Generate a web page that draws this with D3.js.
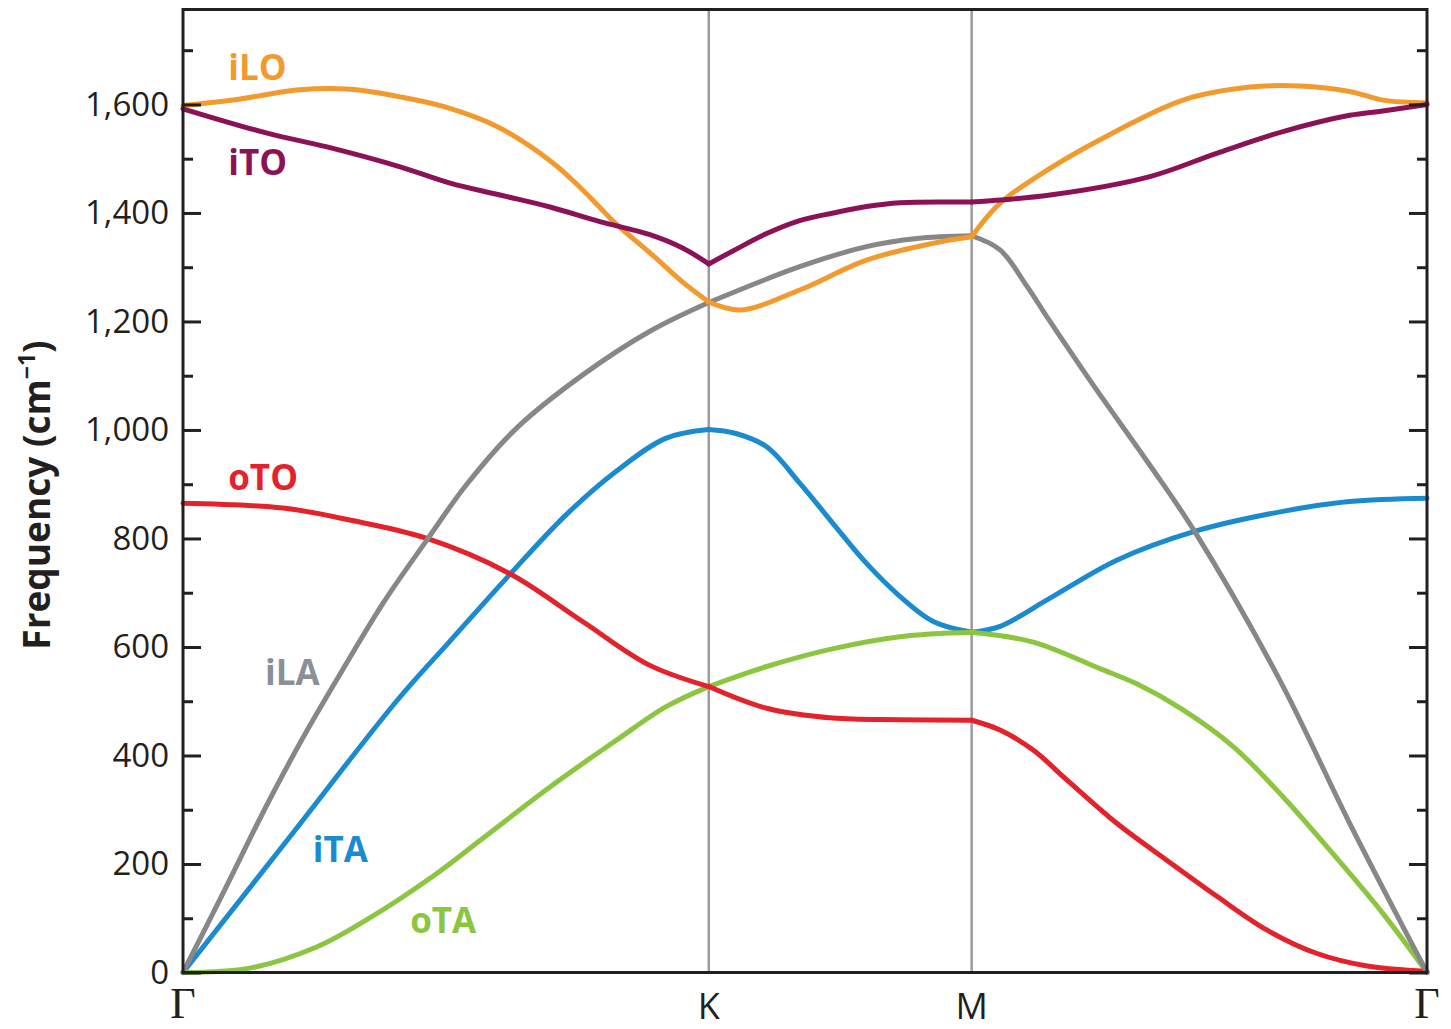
<!DOCTYPE html>
<html>
<head>
<meta charset="utf-8">
<script src="https://cdn.jsdelivr.net/npm/d3@7"></script>
<style>
  html, body { margin: 0; padding: 0; background: #fff; }
  svg { display: block; }
</style>
</head>
<body>
<div id="chart"></div>
<script>
// Graphene phonon dispersion along Γ–K–M–Γ
// q is path length in units of |ΓK|

const symPoints = [
  { label: 'Γ', q: 0 },
  { label: 'K', q: 1 },
  { label: 'M', q: 1.5 },
  { label: 'Γ', q: 1.5 + Math.sqrt(3) / 2 }
];

const yMajorTicks = [0, 200, 400, 600, 800, 1000, 1200, 1400, 1600];
const yMinorTicks = [100, 300, 500, 700, 900, 1100, 1300, 1500, 1700];

const iLO = [[0, 1598], [0.095, 1608], [0.222, 1627], [0.318, 1628], [0.413, 1614], [0.5, 1595],
  [0.6, 1558], [0.7, 1495], [0.75, 1452], [0.793, 1410], [0.818, 1385], [0.898, 1318],
  [0.951, 1272], [1, 1236], [1.059, 1221], [1.173, 1258], [1.3, 1313], [1.426, 1344],
  [1.5, 1356], [1.554, 1418], [1.649, 1482], [1.744, 1535], [1.902, 1608], [2.029, 1632],
  [2.124, 1634], [2.219, 1624], [2.282, 1608], [2.366, 1603]];

const iTO = [[0, 1592], [0.16, 1547], [0.285, 1519], [0.413, 1485], [0.508, 1455], [0.603, 1433],
  [0.698, 1411], [0.793, 1384], [0.888, 1360], [0.951, 1335], [1, 1306], [1.046, 1330],
  [1.11, 1362], [1.17, 1385], [1.237, 1400], [1.3, 1412], [1.364, 1419], [1.5, 1420],
  [1.649, 1433], [1.839, 1467], [1.966, 1510], [2.092, 1550], [2.219, 1580], [2.282, 1588],
  [2.366, 1600]];

const iLA = [[0, 0], [0.076, 146], [0.158, 306], [0.222, 422], [0.292, 539], [0.38, 680],
  [0.463, 796], [0.539, 899], [0.634, 1003], [0.761, 1102], [0.888, 1182], [1, 1235],
  [1.173, 1301], [1.3, 1338], [1.396, 1353], [1.5, 1358], [1.554, 1332], [1.605, 1265],
  [1.649, 1200], [1.731, 1083], [1.839, 935], [1.924, 813], [2.086, 539], [2.219, 275],
  [2.366, 0]];

const iTA = [[0, 0], [0.2, 246], [0.406, 500], [0.507, 610], [0.621, 733], [0.729, 844],
  [0.824, 924], [0.919, 985], [1, 1001], [1.05, 994], [1.11, 969], [1.173, 902],
  [1.236, 828], [1.3, 754], [1.364, 693], [1.427, 647], [1.5, 627], [1.554, 638],
  [1.649, 690], [1.776, 760], [1.924, 813], [2.092, 850], [2.219, 868], [2.366, 874]];

const oTO = [[0, 865], [0.19, 856], [0.317, 834], [0.461, 801], [0.62, 736], [0.76, 647],
  [0.886, 567], [1, 527], [1.11, 487], [1.236, 469], [1.364, 466], [1.5, 465],
  [1.554, 447], [1.617, 410], [1.681, 355], [1.776, 275], [1.871, 207], [1.967, 140],
  [2.062, 78], [2.157, 35], [2.252, 12], [2.366, 2]];

const oTA = [[0, 0], [0.127, 8], [0.254, 47], [0.349, 97], [0.476, 178], [0.571, 248],
  [0.698, 342], [0.824, 428], [0.919, 490], [1, 527], [1.11, 564], [1.237, 597],
  [1.364, 619], [1.5, 627], [1.617, 609], [1.744, 560], [1.814, 532], [1.902, 484],
  [1.998, 416], [2.092, 324], [2.187, 219], [2.282, 109], [2.366, 0]];

// label anchors in data coords (q, frequency)
const branches = [
  { name: 'iTA', data: iTA, color: '#1b8bd0', labelAt: [0.247, 204] },
  { name: 'oTA', data: oTA, color: '#8cc540', labelAt: [0.432, 73] },
  { name: 'oTO', data: oTO, color: '#e3222b', labelAt: [0.086, 889] },
  { name: 'iLA', data: iLA, color: '#878787', labelAt: [0.156, 530], labelColor: '#8a9099' },
  { name: 'iLO', data: iLO, color: '#f29a2e', labelAt: [0.086, 1645] },
  { name: 'iTO', data: iTO, color: '#8b1257', labelAt: [0.086, 1470] }
];

const width = 1451, height = 1029;
const margin = { top: 9.5, right: 24, bottom: 56.5, left: 183 };

const svg = d3.select('#chart').append('svg')
  .attr('width', width)
  .attr('height', height);

svg.append('rect').attr('width', width).attr('height', height).attr('fill', '#fff');

const x = d3.scaleLinear()
  .domain([0, symPoints[symPoints.length - 1].q])
  .range([margin.left, width - margin.right]);

const y = d3.scaleLinear()
  .domain([0, 1775])
  .range([height - margin.bottom, margin.top]);

const textColor = '#231f20';

// vertical lines at K and M
svg.append('g')
  .selectAll('line')
  .data(symPoints.slice(1, -1))
  .join('line')
  .attr('x1', d => x(d.q)).attr('x2', d => x(d.q))
  .attr('y1', y.range()[1]).attr('y2', y.range()[0])
  .attr('stroke', '#9b9b9b')
  .attr('stroke-width', 2.5);

// branches, each segment drawn separately so kinks at K and M stay sharp
const line = d3.line()
  .x(d => x(d[0]))
  .y(d => y(d[1]))
  .curve(d3.curveCatmullRom.alpha(0.5));

const segBounds = d3.pairs(symPoints.map(p => p.q));

const curves = svg.append('g').attr('fill', 'none')
  .attr('stroke-width', 5)
  .attr('stroke-linejoin', 'round')
  .attr('stroke-linecap', 'round');

branches.forEach(b => {
  segBounds.forEach(([a, c]) => {
    const seg = b.data.filter(d => d[0] >= a - 0.001 && d[0] <= c + 0.001);
    curves.append('path')
      .datum(seg)
      .attr('stroke', b.color)
      .attr('d', line);
  });
});

// branch labels
svg.append('g')
  .selectAll('text')
  .data(branches)
  .join('text')
  .attr('x', d => x(d.labelAt[0]))
  .attr('y', d => y(d.labelAt[1]))
  .attr('fill', d => d.labelColor || d.color)
  .attr('font-family', '"Open Sans", sans-serif')
  .attr('font-weight', 700)
  .attr('font-size', 35)
  .text(d => d.name);

// frame
svg.append('rect')
  .attr('x', x.range()[0]).attr('y', y.range()[1])
  .attr('width', x.range()[1] - x.range()[0])
  .attr('height', y.range()[0] - y.range()[1])
  .attr('fill', 'none')
  .attr('stroke', textColor)
  .attr('stroke-width', 3);

// left axis (ticks point inward)
const yAxis = svg.append('g')
  .attr('transform', `translate(${x.range()[0]},0)`)
  .call(d3.axisLeft(y).tickValues(yMajorTicks).tickFormat(d3.format(','))
    .tickSizeInner(-18).tickSizeOuter(0).tickPadding(14));
yAxis.select('.domain').remove();
yAxis.selectAll('.tick line').attr('stroke', textColor).attr('stroke-width', 3);
yAxis.selectAll('.tick text')
  .attr('fill', textColor)
  .attr('font-family', '"Open Sans", sans-serif')
  .attr('font-size', 33);

const yMinorLeft = svg.append('g')
  .attr('transform', `translate(${x.range()[0]},0)`)
  .call(d3.axisLeft(y).tickValues(yMinorTicks).tickFormat('').tickSizeInner(-10).tickSizeOuter(0));
yMinorLeft.select('.domain').remove();
yMinorLeft.selectAll('.tick line').attr('stroke', textColor).attr('stroke-width', 3);

// right axis mirror ticks
const yRight = svg.append('g')
  .attr('transform', `translate(${x.range()[1]},0)`)
  .call(d3.axisRight(y).tickValues(yMajorTicks).tickFormat('').tickSizeInner(-18).tickSizeOuter(0));
yRight.select('.domain').remove();
yRight.selectAll('.tick line').attr('stroke', textColor).attr('stroke-width', 3);

const yRightMinor = svg.append('g')
  .attr('transform', `translate(${x.range()[1]},0)`)
  .call(d3.axisRight(y).tickValues(yMinorTicks).tickFormat('').tickSizeInner(-10).tickSizeOuter(0));
yRightMinor.select('.domain').remove();
yRightMinor.selectAll('.tick line').attr('stroke', textColor).attr('stroke-width', 3);

// high-symmetry point labels
svg.append('g')
  .selectAll('text')
  .data(symPoints)
  .join('text')
  .attr('x', d => x(d.q))
  .attr('y', d => d.label === 'Γ' ? 1018 : 1019)
  .attr('text-anchor', 'middle')
  .attr('fill', textColor)
  .attr('font-family', d => d.label === 'Γ' ? '"Liberation Serif", serif' : '"Open Sans", sans-serif')
  .attr('font-size', d => d.label === 'Γ' ? 44 : 36)
  .text(d => d.label);

// y axis title
const yTitle = svg.append('text')
  .attr('transform', `translate(50,${(y.range()[0] + y.range()[1]) / 2 + 4}) rotate(-90)`)
  .attr('text-anchor', 'middle')
  .attr('fill', textColor)
  .attr('font-family', '"Open Sans", sans-serif')
  .attr('font-weight', 700)
  .attr('font-size', 37);
yTitle.append('tspan').text('Frequency (cm');
yTitle.append('tspan').attr('font-size', 23).attr('dy', -15).text('−1');
yTitle.append('tspan').attr('dy', 15).text(')');
</script>
</body>
</html>
